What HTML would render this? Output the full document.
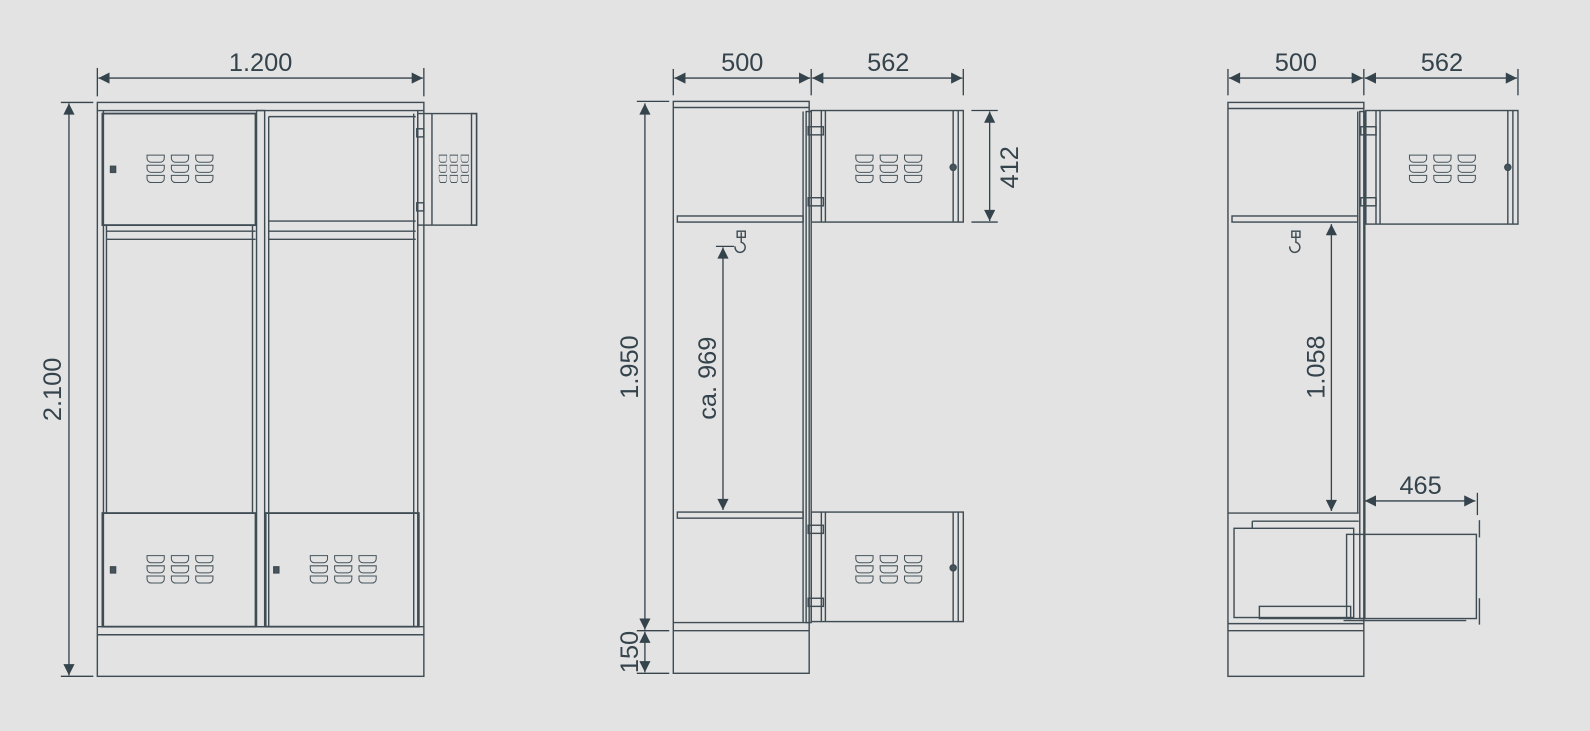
<!DOCTYPE html>
<html><head><meta charset="utf-8"><style>
html,body{margin:0;padding:0;background:#e3e3e3;}
svg{display:block}
text{font-family:"Liberation Sans",sans-serif;fill:#34434c;font-size:25px;}
</style></head><body>
<svg width="1590" height="731" viewBox="0 0 1590 731" xmlns="http://www.w3.org/2000/svg">
<defs>
<marker id="a" viewBox="0 0 10 10" refX="10" refY="5" markerWidth="16" markerHeight="11" markerUnits="userSpaceOnUse" orient="auto-start-reverse"><path d="M0,0 L10,5 L0,10z" fill="#34434c"/></marker>
<g id="v"><path d="M0,0h17v3a4,4 0 0 1-4,4h-9a4,4 0 0 1-4-4z" fill="none" stroke="#46545c" stroke-width="1"/></g>
<g id="vg"><use href="#v"/><use href="#v" x="24"/><use href="#v" x="48"/><use href="#v" y="10"/><use href="#v" x="24" y="10"/><use href="#v" x="48" y="10"/><use href="#v" y="20"/><use href="#v" x="24" y="20"/><use href="#v" x="48" y="20"/></g>
</defs>
<g transform="scale(1.014)">
<g fill="none" stroke="#3f4c54" stroke-width="1.4">
<rect x="96" y="101" width="322" height="566"/>
<line x1="96" y1="109" x2="418" y2="109"/>
<line x1="96" y1="618" x2="418" y2="618"/>
<line x1="96" y1="626" x2="418" y2="626"/>
<line x1="102" y1="109" x2="102" y2="618"/>
<line x1="412" y1="109" x2="412" y2="618"/>
<rect x="253" y="109" width="8" height="509"/>
<rect x="101" y="112" width="151" height="110" stroke-width="1.8"/>
<line x1="105" y1="228" x2="252" y2="228"/><line x1="105" y1="236" x2="252" y2="236"/>
<line x1="265" y1="228" x2="410" y2="228"/><line x1="265" y1="236" x2="410" y2="236"/>
<line x1="265" y1="115" x2="410" y2="115"/><line x1="265" y1="115" x2="265" y2="618"/>
<line x1="265" y1="218" x2="410" y2="218"/>
<line x1="105" y1="222" x2="105" y2="506"/><line x1="249" y1="222" x2="249" y2="506"/>
<line x1="408" y1="112" x2="408" y2="618"/>
<rect x="412" y="112" width="58" height="110"/>
<line x1="426" y1="112" x2="426" y2="222"/>
<rect x="465" y="112" width="5" height="110"/>
<rect x="411" y="127" width="7" height="8"/><rect x="411" y="200" width="7" height="8"/>
<rect x="101" y="506" width="151" height="112" stroke-width="1.8"/>
<rect x="262" y="506" width="151" height="112" stroke-width="1.8"/>
<rect x="109" y="164" width="5" height="6" fill="#46545c"/>
<rect x="109" y="559" width="5" height="6" fill="#46545c"/>
<rect x="270" y="559" width="5" height="6" fill="#46545c"/>
<use href="#vg" x="145" y="153"/>
<use href="#vg" x="145" y="548"/>
<use href="#vg" x="306" y="548"/>
<g transform="translate(433,153) scale(0.45,1)"><use href="#vg"/></g>
<rect x="664" y="100" width="134" height="564"/>
<line x1="664" y1="106" x2="798" y2="106"/>
<line x1="664" y1="622" x2="798" y2="622"/>
<line x1="664" y1="614" x2="798" y2="614"/>
<rect x="668" y="213" width="124" height="6"/>
<rect x="668" y="505" width="124" height="6"/>
<line x1="792" y1="110" x2="792" y2="614"/>
<rect x="795" y="110" width="5" height="504"/>
<rect x="800" y="109" width="150" height="110"/>
<line x1="810" y1="109" x2="810" y2="219"/><line x1="814" y1="109" x2="814" y2="219"/>
<line x1="940" y1="109" x2="940" y2="219"/><line x1="945" y1="109" x2="945" y2="219"/>
<rect x="797" y="125" width="15" height="8"/><rect x="797" y="195" width="15" height="8"/>
<rect x="800" y="505" width="150" height="108"/>
<line x1="810" y1="505" x2="810" y2="613"/><line x1="814" y1="505" x2="814" y2="613"/>
<line x1="940" y1="505" x2="940" y2="613"/><line x1="945" y1="505" x2="945" y2="613"/>
<rect x="797" y="518" width="15" height="8"/><rect x="797" y="590" width="15" height="8"/>
<circle cx="940" cy="165" r="3" fill="#46545c"/><circle cx="940" cy="560" r="3" fill="#46545c"/>
<use href="#vg" x="844" y="153"/>
<use href="#vg" x="844" y="548"/>
<path d="M731,229 v10 a5,5 0 1 1 -6,4"/><rect x="727" y="228" width="8" height="6"/>
<rect x="1211" y="101" width="134" height="566"/>
<line x1="1211" y1="107" x2="1345" y2="107"/>
<line x1="1211" y1="622" x2="1345" y2="622"/>
<line x1="1211" y1="615" x2="1345" y2="615"/>
<rect x="1215" y="213" width="124" height="6"/>
<line x1="1211" y1="506" x2="1340" y2="506"/>
<line x1="1339" y1="110" x2="1339" y2="506"/>
<rect x="1341" y="110" width="5" height="500"/>
<rect x="1347" y="109" width="150" height="112"/>
<line x1="1357" y1="109" x2="1357" y2="221"/><line x1="1361" y1="109" x2="1361" y2="221"/>
<line x1="1487" y1="109" x2="1487" y2="221"/><line x1="1492" y1="109" x2="1492" y2="221"/>
<rect x="1342" y="125" width="15" height="8"/><rect x="1342" y="195" width="15" height="8"/>
<circle cx="1487" cy="165" r="3" fill="#46545c"/>
<use href="#vg" x="1390" y="153"/>
<path d="M1278,229 v10 a5,5 0 1 1 -6,4"/><rect x="1274" y="228" width="8" height="6"/>
<rect x="1217" y="521" width="118" height="88"/>
<line x1="1235" y1="514" x2="1340" y2="514"/><line x1="1235" y1="514" x2="1235" y2="521"/>
<rect x="1242" y="598" width="90" height="12"/>
<rect x="1328" y="527" width="128" height="83"/>
<line x1="1325" y1="612" x2="1446" y2="612"/>
<line x1="1459" y1="513" x2="1459" y2="530"/><line x1="1459" y1="590" x2="1459" y2="616"/>
</g>
<g stroke="#34434c" stroke-width="1.3" fill="none">
<line x1="97" y1="77" x2="417" y2="77" marker-start="url(#a)" marker-end="url(#a)"/>
<line x1="96" y1="67" x2="96" y2="95"/><line x1="418" y1="67" x2="418" y2="95"/>
<line x1="68" y1="102" x2="68" y2="666" marker-start="url(#a)" marker-end="url(#a)"/>
<line x1="60" y1="101" x2="92" y2="101"/><line x1="60" y1="667" x2="92" y2="667"/>
<line x1="665" y1="77" x2="799" y2="77" marker-start="url(#a)" marker-end="url(#a)"/>
<line x1="801" y1="77" x2="949" y2="77" marker-start="url(#a)" marker-end="url(#a)"/>
<line x1="664" y1="68" x2="664" y2="94"/><line x1="800" y1="68" x2="800" y2="94"/><line x1="950" y1="68" x2="950" y2="94"/>
<line x1="636" y1="102" x2="636" y2="621" marker-start="url(#a)" marker-end="url(#a)"/>
<line x1="636" y1="623" x2="636" y2="663" marker-start="url(#a)" marker-end="url(#a)"/>
<line x1="628" y1="100" x2="660" y2="100"/><line x1="628" y1="622" x2="660" y2="622"/><line x1="628" y1="664" x2="660" y2="664"/>
<line x1="976" y1="110" x2="976" y2="218" marker-start="url(#a)" marker-end="url(#a)"/>
<line x1="958" y1="109" x2="984" y2="109"/><line x1="958" y1="219" x2="984" y2="219"/>
<line x1="713" y1="244" x2="713" y2="503" marker-start="url(#a)" marker-end="url(#a)"/>
<line x1="706" y1="243" x2="724" y2="243"/>
<line x1="1212" y1="77" x2="1344" y2="77" marker-start="url(#a)" marker-end="url(#a)"/>
<line x1="1346" y1="77" x2="1496" y2="77" marker-start="url(#a)" marker-end="url(#a)"/>
<line x1="1211" y1="68" x2="1211" y2="94"/><line x1="1345" y1="68" x2="1345" y2="94"/><line x1="1497" y1="68" x2="1497" y2="94"/>
<line x1="1313" y1="221" x2="1313" y2="504" marker-start="url(#a)" marker-end="url(#a)"/>
<line x1="1346" y1="494" x2="1455" y2="494" marker-start="url(#a)" marker-end="url(#a)"/>
<line x1="1457" y1="486" x2="1457" y2="508"/>
</g>
<text x="257" y="70" text-anchor="middle">1.200</text>
<text transform="translate(60,384) rotate(-90)" text-anchor="middle">2.100</text>
<text x="732" y="70" text-anchor="middle">500</text>
<text x="876" y="70" text-anchor="middle">562</text>
<text transform="translate(629,362) rotate(-90)" text-anchor="middle">1.950</text>
<text transform="translate(629,643) rotate(-90)" text-anchor="middle">150</text>
<text transform="translate(1004,165) rotate(-90)" text-anchor="middle">412</text>
<text transform="translate(706,373) rotate(-90)" text-anchor="middle">ca. 969</text>
<text x="1278" y="70" text-anchor="middle">500</text>
<text x="1422" y="70" text-anchor="middle">562</text>
<text transform="translate(1306,362) rotate(-90)" text-anchor="middle">1.058</text>
<text x="1401" y="487" text-anchor="middle">465</text>
</g>
</svg>
</body></html>
